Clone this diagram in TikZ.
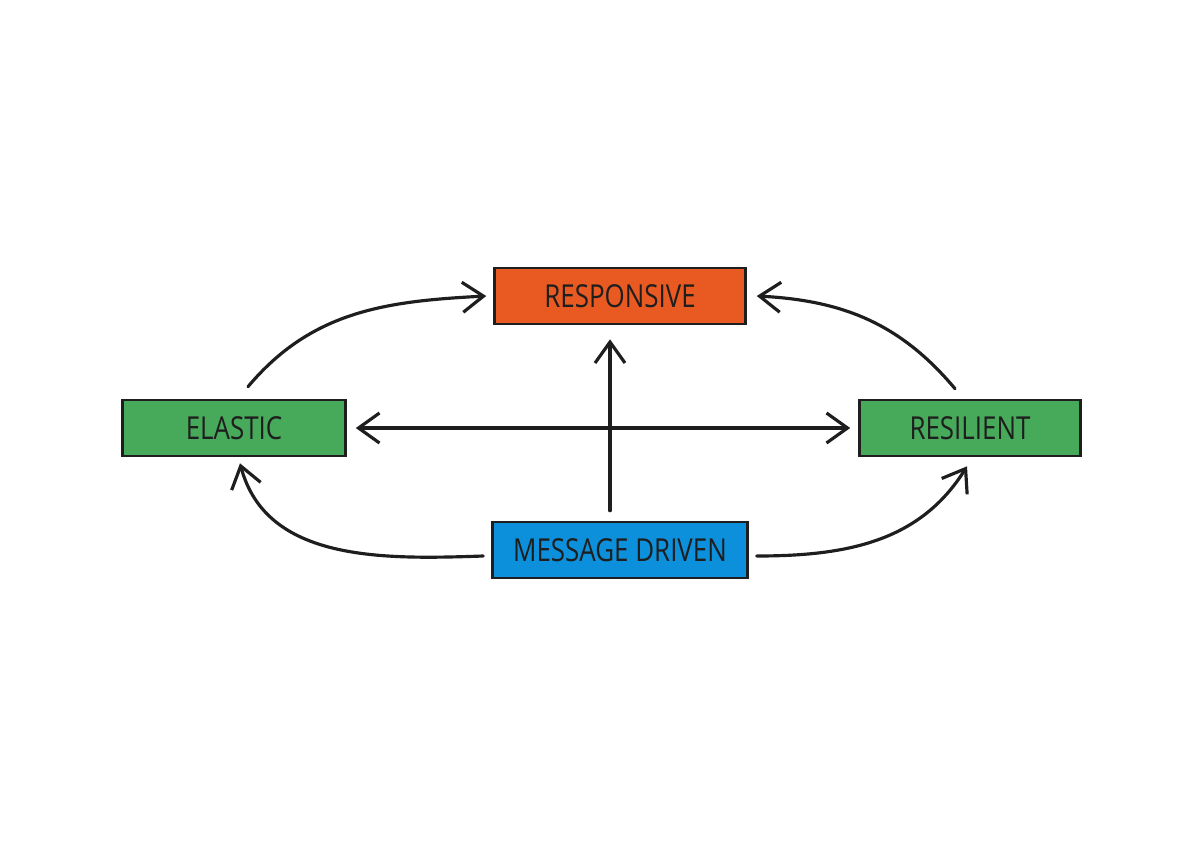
\documentclass[tikz,border=0pt]{standalone}
\usepackage{fontspec}
\setmainfont[FakeStretch=0.82]{Open Sans}
\usetikzlibrary{arrows.meta}
\definecolor{orng}{HTML}{E85A22}
\definecolor{grn}{HTML}{47A95A}
\definecolor{blu}{HTML}{0C90DC}
\definecolor{ink}{HTML}{1E1E1E}
\tikzset{
  x=0.02cm, y=-0.02cm,
  box/.style={draw=ink, line width=1.5pt, minimum height=1.12cm, inner sep=0pt,
    text=ink, font=\fontsize{18}{21}\selectfont},
  arr/.style={draw=ink, line width=1.8pt, line cap=round, -{Straight Barb[length=0.42cm, width=0.6cm, line width=1.8pt]}},
  darr/.style={draw=ink, line width=1.8pt, line cap=round,
    {Straight Barb[length=0.42cm, width=0.6cm, line width=1.8pt]}-{Straight Barb[length=0.42cm, width=0.6cm, line width=1.8pt]}}
}
\begin{document}
\begin{tikzpicture}
\useasboundingbox[fill=white] (0,0) rectangle (1200,848);
\node[box, fill=orng, minimum width=5.02cm] (resp) at (620,296) {RESPONSIVE};
\node[box, fill=grn, minimum width=4.46cm] (el) at (234,428) {ELASTIC};
\node[box, fill=grn, minimum width=4.42cm] (res) at (970,428) {RESILIENT};
\node[box, fill=blu, minimum width=5.1cm] (msg) at (620,550) {MESSAGE DRIVEN};
\coordinate (elT) at ([shift={(14,-12)}]el.north);
\coordinate (resT) at ([shift={(-15,-10)}]res.north);
\coordinate (elB) at ([shift={(6,6)}]el.south);
\coordinate (resB) at ([shift={(-3,9)}]res.south);
\draw[arr] (elT) to[out=50, in=183] ([xshift=-0.14cm]resp.west);
\draw[arr] (resT) to[out=130, in=-3] ([xshift=0.2cm]resp.east);
\draw[arr] ([shift={(-8,6)}]msg.west) to[out=182, in=-75] (elB);
\draw[arr] ([shift={(8,6)}]msg.east) to[out=0, in=-122] (resB);
\draw[darr] ([xshift=0.18cm]el.east) -- ([xshift=-0.16cm]res.west);
\draw[arr] ([xshift=-0.2cm, yshift=0.2cm]msg.north) -- ([xshift=-0.2cm, yshift=-0.28cm]resp.south);
\end{tikzpicture}
\end{document}
